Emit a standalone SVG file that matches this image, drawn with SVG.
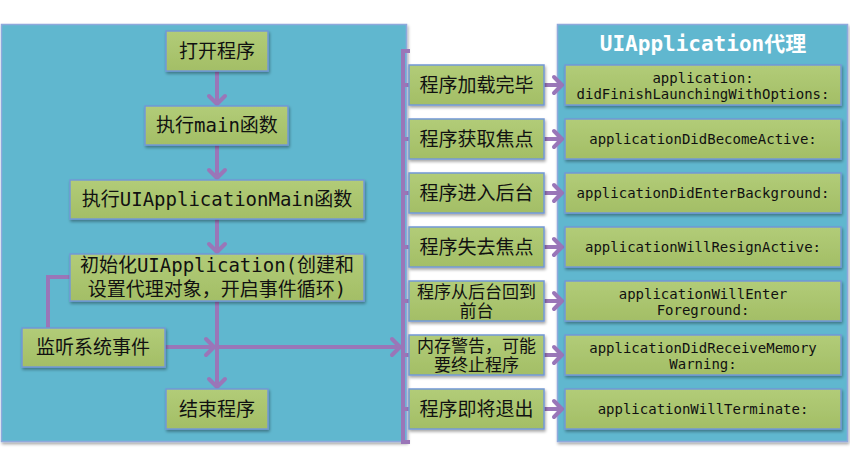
<svg xmlns="http://www.w3.org/2000/svg" width="850" height="466" viewBox="0 0 850 466">
<defs>
<filter id="sh" x="-10%" y="-10%" width="120%" height="130%">
<feDropShadow dx="1" dy="2" stdDeviation="1.5" flood-color="#000" flood-opacity="0.35"/>
</filter>
<linearGradient id="gb" x1="0" y1="0" x2="0" y2="1">
<stop offset="0" stop-color="#b2cc78"/>
<stop offset="1" stop-color="#a3be66"/>
</linearGradient>
<marker id="ch" viewBox="-12 -12 24 24" markerWidth="24" markerHeight="24" refX="0" refY="0" orient="auto" markerUnits="userSpaceOnUse">
<path d="M-9,-8 L-1,0 L-9,8" fill="none" stroke="#9a76b8" stroke-width="4" stroke-linecap="round" stroke-linejoin="round"/>
</marker>
</defs>
<style>
.panel{fill:#61b7cf;stroke:#8fa9dc;stroke-width:1.5;filter:url(#sh)}
.box{fill:url(#gb);stroke:#7398d6;stroke-width:1.5;filter:url(#sh)}
.t{font-family:"DejaVu Sans Mono","Noto Sans CJK SC",monospace;fill:#111;text-anchor:middle}
.l{font-size:19px}
.m{font-size:19px}
.s{font-size:17px}
.r{font-size:14px}
.title{font-family:"DejaVu Sans Mono","Noto Sans CJK SC",monospace;font-size:21px;font-weight:bold;fill:#fff;text-anchor:middle}
.c{fill:none;stroke:#9a76b8;stroke-width:4}
.ca{fill:none;stroke:#9a76b8;stroke-width:4;marker-end:url(#ch)}
</style>
<rect class="panel" x="1.5" y="24.5" width="405" height="417"/>
<rect class="panel" x="557.5" y="24.5" width="290" height="417"/>
<text class="title" x="703" y="51">UIApplication代理</text>
<g id="connectors">
<line class="ca" x1="217" y1="71" x2="217" y2="105"/>
<line class="ca" x1="217" y1="145" x2="217" y2="179"/>
<line class="ca" x1="217" y1="219" x2="217" y2="253"/>
<line class="ca" x1="217" y1="301" x2="217" y2="388"/>
<path class="c" d="M48,328 V277 H70"/>
<line class="ca" x1="165" y1="347" x2="215" y2="347"/>
<line class="ca" x1="217" y1="347" x2="401" y2="347"/>
<path class="c" d="M410,51 H403 V442 H410"/>
<path class="c" d="M403,85 H409 M403,139 H409 M403,193 H409 M403,247 H409 M403,301 H409 M403,355 H409 M403,409 H409"/>
<line class="ca" x1="544" y1="85" x2="563" y2="85"/>
<line class="ca" x1="544" y1="139" x2="563" y2="139"/>
<line class="ca" x1="544" y1="193" x2="563" y2="193"/>
<line class="ca" x1="544" y1="247" x2="563" y2="247"/>
<line class="ca" x1="544" y1="301" x2="563" y2="301"/>
<line class="ca" x1="544" y1="355" x2="563" y2="355"/>
<line class="ca" x1="544" y1="409" x2="563" y2="409"/>
</g>
<g id="open"><rect class="box" x="166" y="31" width="102" height="40"/><text class="t l" x="217" y="58">打开程序</text></g>
<g id="main"><rect class="box" x="145" y="106" width="143" height="39"/><text class="t l" x="217" y="132">执行main函数</text></g>
<g id="uiappmain"><rect class="box" x="70" y="180" width="294" height="39"/><text class="t l" x="217" y="206">执行UIApplicationMain函数</text></g>
<g id="init"><rect class="box" x="70" y="254" width="294" height="47"/><text class="t l" x="217" y="272">初始化UIApplication(创建和</text><text class="t l" x="217" y="296">设置代理对象，开启事件循环)</text></g>
<g id="listen"><rect class="box" x="22" y="328" width="143" height="39"/><text class="t l" x="93" y="354">监听系统事件</text></g>
<g id="end"><rect class="box" x="166" y="389" width="102" height="40"/><text class="t l" x="217" y="416">结束程序</text></g>
<g id="e1"><rect class="box" x="409" y="65" width="135" height="40"/><text class="t m" x="476.5" y="92">程序加载完毕</text></g>
<g id="e2"><rect class="box" x="409" y="119" width="135" height="40"/><text class="t m" x="476.5" y="146">程序获取焦点</text></g>
<g id="e3"><rect class="box" x="409" y="173" width="135" height="40"/><text class="t m" x="476.5" y="200">程序进入后台</text></g>
<g id="e4"><rect class="box" x="409" y="227" width="135" height="40"/><text class="t m" x="476.5" y="254">程序失去焦点</text></g>
<g id="e5"><rect class="box" x="409" y="281" width="135" height="40"/><text class="t s" x="476.5" y="298">程序从后台回到</text><text class="t s" x="476.5" y="317">前台</text></g>
<g id="e6"><rect class="box" x="409" y="335" width="135" height="40"/><text class="t s" x="476.5" y="352">内存警告，可能</text><text class="t s" x="476.5" y="371">要终止程序</text></g>
<g id="e7"><rect class="box" x="409" y="389" width="135" height="40"/><text class="t m" x="476.5" y="416">程序即将退出</text></g>
<g id="d1"><rect class="box" x="565" y="65" width="276" height="40"/><text class="t r" x="703" y="83">application:</text><text class="t r" x="703" y="99">didFinishLaunchingWithOptions:</text></g>
<g id="d2"><rect class="box" x="565" y="119" width="276" height="40"/><text class="t r" x="703" y="144">applicationDidBecomeActive:</text></g>
<g id="d3"><rect class="box" x="565" y="173" width="276" height="40"/><text class="t r" x="703" y="198">applicationDidEnterBackground:</text></g>
<g id="d4"><rect class="box" x="565" y="227" width="276" height="40"/><text class="t r" x="703" y="252">applicationWillResignActive:</text></g>
<g id="d5"><rect class="box" x="565" y="281" width="276" height="40"/><text class="t r" x="703" y="299">applicationWillEnter</text><text class="t r" x="703" y="315">Foreground:</text></g>
<g id="d6"><rect class="box" x="565" y="335" width="276" height="40"/><text class="t r" x="703" y="353">applicationDidReceiveMemory</text><text class="t r" x="703" y="369">Warning:</text></g>
<g id="d7"><rect class="box" x="565" y="389" width="276" height="40"/><text class="t r" x="703" y="414">applicationWillTerminate:</text></g>
</svg>
